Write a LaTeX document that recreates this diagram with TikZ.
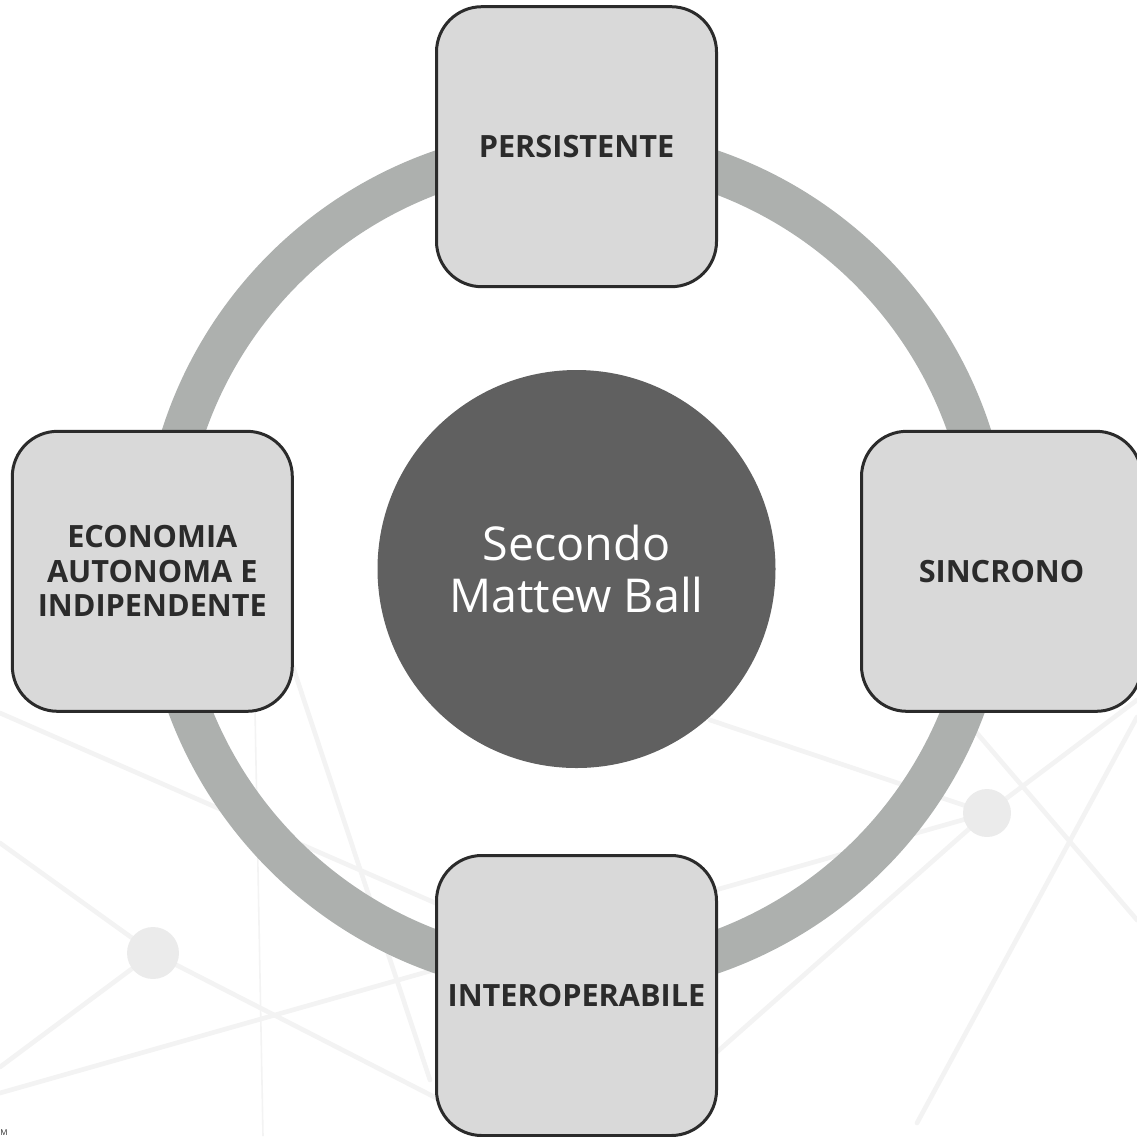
\documentclass[tikz,border=0pt]{standalone}
\usepackage{fontspec}
\setmainfont{Open Sans}
\definecolor{ringgray}{HTML}{ADB0AE}
\definecolor{ballgray}{HTML}{606060}
\definecolor{boxfill}{HTML}{D9D9D9}
\definecolor{boxline}{HTML}{2B2B2B}
\definecolor{netgray}{HTML}{F3F3F3}
\tikzset{
  netline/.style={draw=netgray, line width=3.5pt, line cap=round},
  netthin/.style={draw=netgray, line width=1.2pt},
  featbox/.style={draw=boxline, fill=boxfill, line width=2.25pt, rounded corners=34pt,
    minimum width=210pt, minimum height=210pt, align=center, text=boxline,
    font=\fontsize{23}{25.9}\selectfont\bfseries},
}
\begin{document}
\begin{tikzpicture}[x=0.75pt,y=0.75pt,yscale=-1,xscale=1]
\useasboundingbox (0,0) rectangle (1137,1136);

%Background network
\coordinate (nA) at (153,953);
\coordinate (nB) at (987,813);
\draw [netline] (0,713) -- (440,905) ;
\draw [netline] (0,1093) -- (nB) ;
\draw [netline] (0,843) -- (nA) -- (450,1105) ;
\draw [netline] (0,1067) -- (nA) ;
\draw [netline] (293,667) -- (430,1080) ;
\draw [netline] (710,720) -- (nB) ;
\draw [netline] (1137,700) -- (nB) -- (700,1067) ;
\draw [netline] (1137,717) -- (917,1123) ;
\draw [netline] (940,690) -- (1137,920) ;
\draw [netthin] (255,710) -- (263,1136) ;
\fill [black!8] (nA) circle (26) ;
\fill [black!8] (nB) circle (24) ;

%Shape: Ring
\draw [ringgray, line width=31.5pt] (576.5,562) circle (414) ;

%Shape: Circle
\node (ball) [circle, fill=ballgray, minimum size=298.5pt, inner sep=0pt, align=center,
  text=white, font=\fontsize{35}{39.5}\selectfont] at (576.5,569) {Secondo\\Mattew Ball};

%Shape: Rounded Rectangles
\node (persist) [featbox] at (576.5,146.7) {PERSISTENTE};
\node (econ) [featbox] at (152.3,571.3) {ECONOMIA\\AUTONOMA E\\INDIPENDENTE};
\node (sincr) [featbox] at (1001.5,571.3) {SINCRONO};
\node (interop) [featbox] at (576.5,995.5) {INTEROPERABILE};

% Text Node
\node (mark) [anchor=south west, inner sep=0pt, text=boxline, font=\fontsize{6}{6}\selectfont] at (0,1136) {M};

\end{tikzpicture}
\end{document}
